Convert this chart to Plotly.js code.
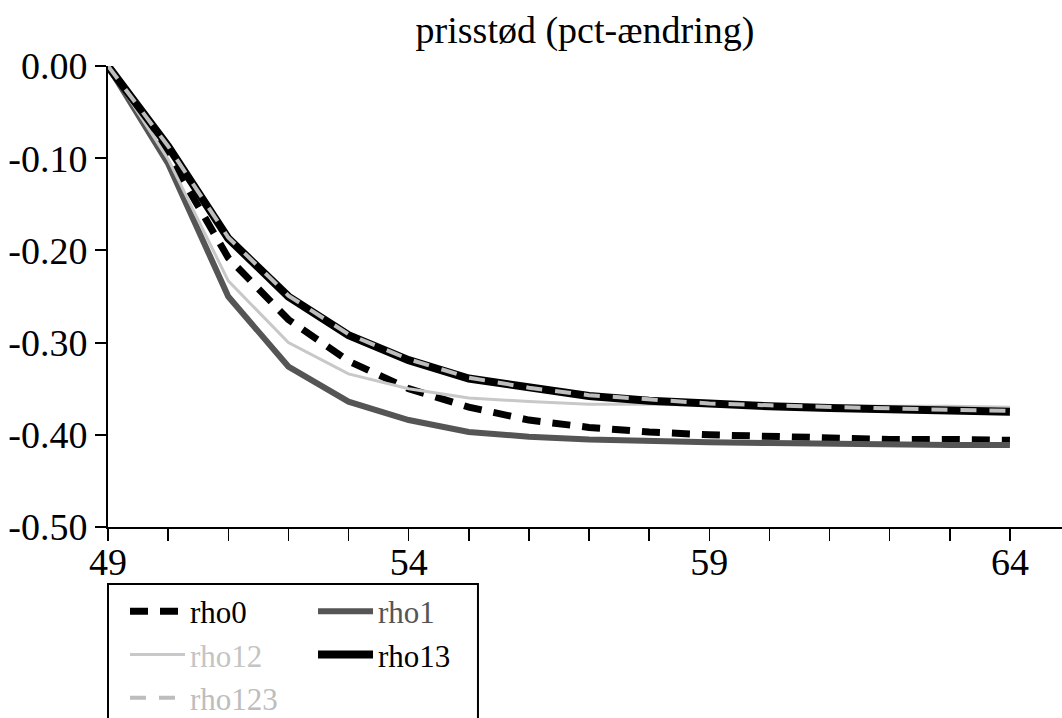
<!DOCTYPE html>
<html>
<head>
<meta charset="utf-8">
<script src="https://cdn.plot.ly/plotly-3.0.1.min.js"></script>
<style>
html, body { margin: 0; padding: 0; background: #fff; }
#chart { width: 1062px; height: 718px; }
</style>
</head>
<body>
<div id="chart"></div>
<script>
const years = [49, 50, 51, 52, 53, 54, 55, 56, 57, 58, 59, 60, 61, 62, 63, 64];
const rho0   = [0, -0.096, -0.208, -0.275, -0.320, -0.350, -0.370, -0.384, -0.392, -0.397, -0.400, -0.402, -0.404, -0.405, -0.405, -0.406];
const rho1   = [0, -0.106, -0.250, -0.326, -0.364, -0.384, -0.397, -0.402, -0.405, -0.407, -0.408, -0.409, -0.410, -0.410, -0.411, -0.411];
const rho12  = [0, -0.101, -0.233, -0.300, -0.334, -0.350, -0.360, -0.364, -0.367, -0.367, -0.368, -0.368, -0.369, -0.369, -0.369, -0.370];
const rho13  = [0, -0.087, -0.187, -0.250, -0.292, -0.319, -0.339, -0.349, -0.358, -0.363, -0.367, -0.369, -0.371, -0.373, -0.374, -0.375];
const rho123 = [0, -0.087, -0.186, -0.249, -0.291, -0.318, -0.338, -0.349, -0.357, -0.362, -0.366, -0.368, -0.370, -0.372, -0.373, -0.374];

const xTickVals = years;
const xTickText = ['49', '', '', '', '', '54', '', '', '', '', '59', '', '', '', '', '64'];
const yTickVals = [0, -0.1, -0.2, -0.3, -0.4, -0.5];
const yTickText = ['0.00', '-0.10', '-0.20', '-0.30', '-0.40', '-0.50'];

const FONT = 'Liberation Serif, Times New Roman, serif';

const traces = [
  { x: years, y: rho0, name: '<span style="color:#000000">rho0</span>', legend: 'legend',
    mode: 'lines', line: { color: '#000000', width: 7, dash: '18px,12px' } },
  { x: years, y: rho1, name: '<span style="color:#555555">rho1</span>', legend: 'legend2',
    mode: 'lines', line: { color: '#555555', width: 6 } },
  { x: years, y: rho12, name: '<span style="color:#c4c4c4">rho12</span>', legend: 'legend',
    mode: 'lines', line: { color: '#c8c8c8', width: 3 } },
  { x: years, y: rho13, name: '<span style="color:#000000">rho13</span>', legend: 'legend2',
    mode: 'lines', line: { color: '#000000', width: 8 } },
  { x: years, y: rho123, name: '<span style="color:#bdbdbd">rho123</span>', legend: 'legend',
    mode: 'lines', line: { color: '#bdbdbd', width: 4, dash: '16px,13px' } }
];

const legendCommon = {
  orientation: 'v', xanchor: 'left', yanchor: 'top',
  bgcolor: 'rgba(0,0,0,0)', borderwidth: 0,
  font: { family: FONT, size: 31, color: '#000' },
  tracegroupgap: 0, itemwidth: 55
};

const layout = {
  width: 1062, height: 718,
  margin: { l: 108, r: 0, t: 66, b: 191, pad: 0, autoexpand: false },
  paper_bgcolor: '#ffffff', plot_bgcolor: '#ffffff',
  font: { family: FONT, size: 38, color: '#000' },
  title: {
    text: 'prisstød (pct-ændring)',
    font: { family: FONT, size: 38, color: '#000' },
    xref: 'paper', x: 0.5, xanchor: 'center',
    yref: 'container', y: 0.958, yanchor: 'middle'
  },
  xaxis: {
    range: [49, 64.866], showgrid: false, zeroline: false,
    showline: true, linecolor: '#000', linewidth: 2,
    ticks: 'outside', ticklen: 12, tickwidth: 1.5, tickcolor: '#000',
    ticklabelstandoff: -12,
    tickvals: xTickVals, ticktext: xTickText,
    tickfont: { family: FONT, size: 38, color: '#000' }
  },
  yaxis: {
    range: [-0.5, 0], showgrid: false, zeroline: false,
    showline: true, linecolor: '#000', linewidth: 2,
    ticks: 'outside', ticklen: 11, tickwidth: 2, tickcolor: '#000',
    tickvals: yTickVals, ticktext: yTickText,
    tickfont: { family: FONT, size: 38, color: '#000' }
  },
  showlegend: true,
  legend: Object.assign({}, legendCommon, { x: 0.0178, y: -0.1247 }),
  legend2: Object.assign({}, legendCommon, { x: 0.2149, y: -0.1247 }),
  shapes: [
    { type: 'rect', xref: 'paper', yref: 'paper',
      x0: 0, x1: 0.3878, y0: -0.1237, y1: -0.45,
      line: { color: '#000', width: 2 }, fillcolor: 'rgba(0,0,0,0)' }
  ]
};

Plotly.newPlot('chart', traces, layout, { displayModeBar: false, staticPlot: true });
</script>
</body>
</html>
